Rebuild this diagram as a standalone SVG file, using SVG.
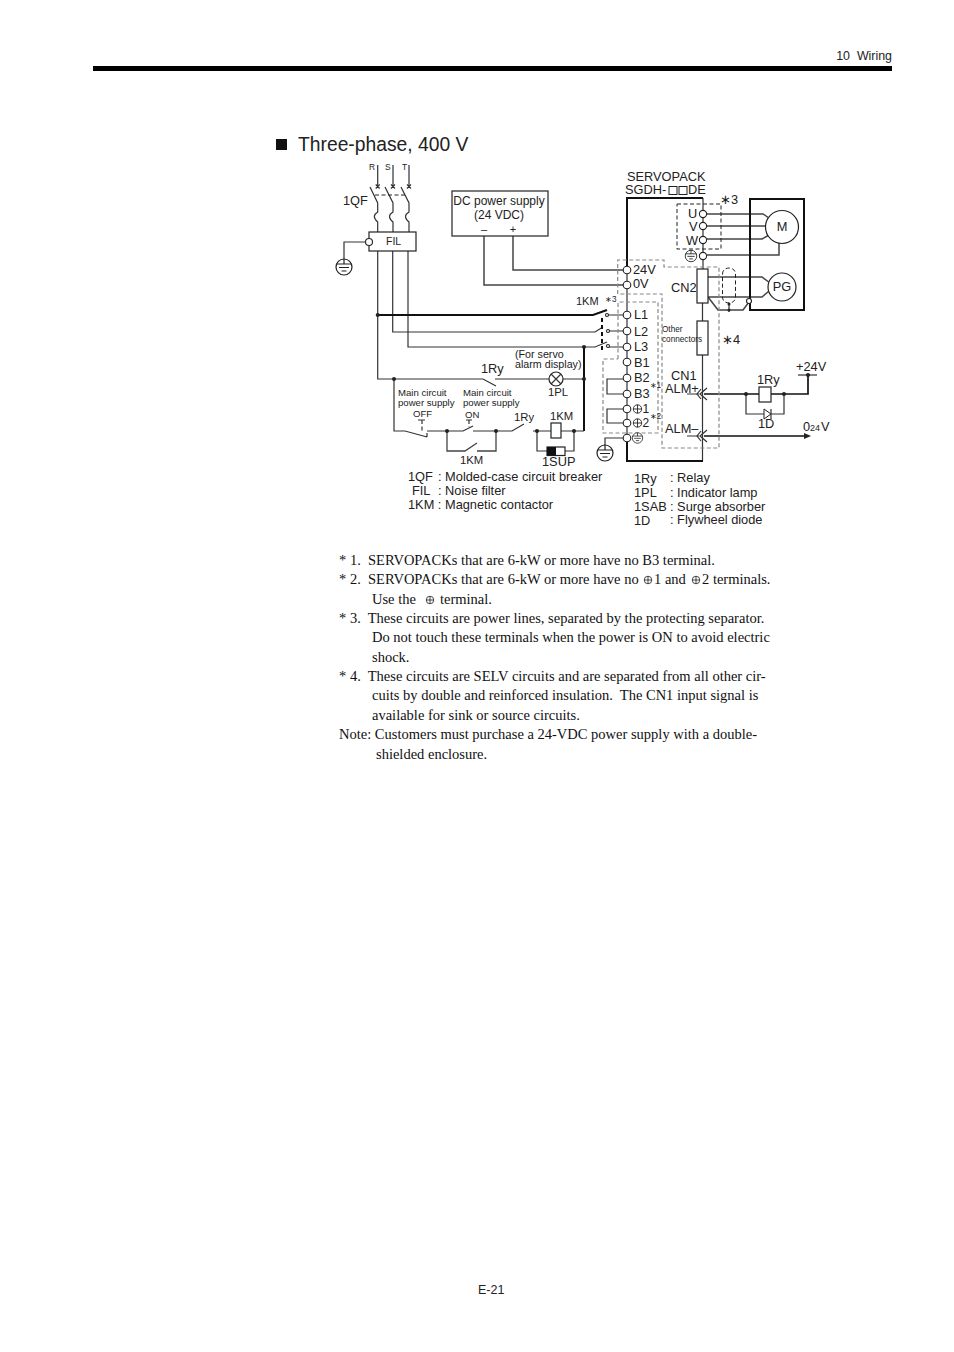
<svg xmlns="http://www.w3.org/2000/svg" width="954" height="1352" viewBox="0 0 954 1352">
<style>
text{font-family:"Liberation Sans",Arial,sans-serif;fill:#222;white-space:pre}
.s{font-size:12.8px}.xs{font-size:10.7px}.t{font-size:9.6px}.c{font-size:11.3px}.o{font-size:8.2px}.r{font-size:8.4px}
.b{font-family:"Liberation Serif","Times New Roman",serif;font-size:14.5px;fill:#111}
.w{fill:none;stroke:#333;stroke-width:1.2}
.h{fill:none;stroke:#444;stroke-width:1.5}
.k{fill:none;stroke:#111;stroke-width:2}
.tc{fill:#fff;stroke:#222;stroke-width:1.1}
.g{fill:none;stroke:#888;stroke-width:1.2;stroke-dasharray:4 2.5}
.d{fill:none;stroke:#222;stroke-width:1;stroke-dasharray:4 2.5}
.bx{fill:#fff;stroke:#222;stroke-width:1.2}
.dot{fill:#222}
</style>
<defs>
<g id="earth"><circle r="8" fill="#fff" stroke="#222" stroke-width="1.2"/><path d="M0-8V-3M-7.5-3H7.5M-5 0.5H5M-2.5 4H2.5" fill="none" stroke="#222" stroke-width="1.2"/></g>
<g id="plus"><circle r="4.2" fill="none" stroke="#222" stroke-width="0.9"/><path d="M-4.2 0H4.2M0-4.2V4.2" stroke="#222" stroke-width="0.9"/></g>
</defs>
<g id="page-header">
<rect x="93" y="66" width="799" height="5" fill="#000"/>
<text x="892" y="60" text-anchor="end" style="font-size:12.4px">10  Wiring</text>
<rect x="276" y="139" width="11" height="11" fill="#111"/>
<text x="298" y="151" style="font-size:19.3px">Three-phase, 400 V</text>
</g>
<g id="connectors">
<path class="w" d="M377.700 165V187M393 165V187M409 165V187"/>
<path class="w" d="M375.700 184.500L379.700 188.500M379.700 184.500L375.700 188.500M391 184.500L395 188.500M395 184.500L391 188.500M407 184.500L411 188.500M411 184.500L407 188.500"/>
<path class="w" d="M370 187L377.700 203V212Q371 216 377.700 222V232M385 187L393 203V212Q386 216 393 222V232M401 187L409 203V212Q402 216 409 222V232"/>
<path class="d" d="M375 195H407"/>
<path class="w" d="M365.500 242H344V259"/>
<path class="w" d="M377.700 251V379H483L496 386M495 379H549M563 379H584M392.700 251V332H595L603 327M408 251V347H595L607 342"/>
<path class="k" d="M377.700 315H593L607 310"/>
<path class="k" d="M584 347V431"/>
<path class="h" d="M484 236V285H623.500M513 236V270H623.500"/>
<path class="w" d="M607 315H623.500M608 331H623.500M608 347H623.500"/>
<path class="k" d="M602 318V350" stroke-dasharray="4 3"/>
<path class="k" d="M627 267V198H703"/>
<path class="w" d="M627 270V438"/>
<path class="w" d="M703 198V269M702.500 303V321M702.500 355V461"/>
<path class="h" d="M707 214H763L769 218M707 226H766M707 239H762L769 235M707 255H779V243"/>
<path class="h" d="M708 277H762L770 283M708 297H762L769 291M708 297L718 310H743L749 302"/>
<path class="d" d="M722.500 274C722.500 266 735.500 266 735.500 274V297C735.500 305 722.500 305 722.500 297Z"/>
<path class="w" d="M729 304V312"/>
<path class="k" d="M627 442V461H703"/>
<path class="w" d="M623.500 379H607V394H623.500M623.500 409H607V423H623.500M623.500 438H605V445"/>
<path class="w" d="M687 394H699M687 436H699"/>
<path class="k" d="M704 394H759M771 394H808V375M704 436H806" style="stroke-width:1.7"/>
<path class="w" d="M701 389L697 394L701 399M707 388L700 394L707 400M701 431L697 436L701 441M707 430L700 436L707 442"/>
<path d="M811 436L804 433V439Z" fill="#222"/>
<path class="w" d="M798 375H817"/>
<path class="w" d="M746 394V414H764M771 414H784V394"/>
<path class="w" d="M394 379V431H405L427 437M427 433V437M427 431H452L463 431L473 426M473 431H512L524 424M533 431H551M561 431H584"/>
<path class="h" d="M447 431V451H465L477 443M477 451H496V431" style="stroke-width:1.3"/>
<path class="w" d="M537 431V451H547M565 451H574V431"/>
<path class="d" d="M422 420V433M469 420V427" style="stroke-width:1.1"/>
<path class="w" d="M418 420H425M466 420H472"/>
</g>
<g id="dash-boxes">
<path class="d" d="M677 204H721V249H677Z"/>
<path class="g" d="M617.700 294V260H664V267H719V448H662V294H617.700"/>
<path class="g" d="M618 359V302H658V433H603V359H618"/>
</g>
<g id="src-labels"><text class="r" x="369" y="170">R</text><text class="r" x="385" y="170">S</text><text class="r" x="402" y="170">T</text><text class="s" x="343" y="205">1QF</text></g>
<g id="fil"><rect class="bx" x="369" y="232" width="47" height="19"/><circle class="tc" cx="369" cy="242" r="3.500"/><text style="font-size:10.5px" x="386" y="245">FIL</text></g>
<g id="earth-1"><use href="#earth" x="344" y="267"/></g>
<g id="dc-supply"><rect class="bx" x="452" y="191" width="96" height="45"/><text x="499" y="205" text-anchor="middle" style="font-size:12px">DC power supply</text><text x="499" y="219" text-anchor="middle" style="font-size:12px">(24 VDC)</text><text x="484" y="233" text-anchor="middle" style="font-size:11px">–</text><text x="513" y="233" text-anchor="middle" style="font-size:11px">+</text></g>
<g id="servopack-label"><text x="627" y="181" class="s">SERVOPACK</text><text x="625" y="194" class="s">SGDH-</text><rect x="669" y="186.500" width="8" height="8" fill="none" stroke="#222"/><rect x="679" y="186.500" width="8" height="8" fill="none" stroke="#222"/><text x="688" y="194" class="s">DE</text><text x="720" y="204" class="s">∗3</text></g>
<g id="motor"><path class="k" d="M750 310V199H804V310Z"/><circle class="bx" cx="782" cy="227" r="16.500"/><text x="782" y="231" text-anchor="middle" class="s">M</text><circle class="bx" cx="782" cy="287" r="14"/><text x="782" y="291" text-anchor="middle" class="s">PG</text></g>
<g id="cn2"><rect class="bx" x="697" y="269" width="11" height="34"/><text class="s" x="671" y="292">CN2</text><rect class="bx" x="697" y="321" width="11" height="34"/></g>
<g id="other"><text class="o" x="662" y="332">Other</text><text class="o" x="662" y="342">connectors</text><text x="722" y="344" class="s">∗4</text></g>
<g id="terminals-top">
<circle class="tc" cx="703" cy="214" r="3.600"/><circle class="tc" cx="703" cy="226" r="3.600"/><circle class="tc" cx="703" cy="240" r="3.600"/><circle class="tc" cx="703" cy="256" r="3.600"/>
<text class="s" x="688" y="218">U</text><text class="s" x="689" y="231">V</text><text class="s" x="686" y="245">W</text>
<use href="#earth" transform="translate(691 256) scale(.72)"/>
<circle class="tc" cx="749" cy="301" r="2.500"/><circle class="dot" cx="729" cy="304" r="1.500"/><circle class="dot" cx="729" cy="310" r="1.500"/>
</g>
<g id="terminals-main">
<circle class="tc" cx="627" cy="270" r="3.800"/><circle class="tc" cx="627" cy="285" r="3.800"/><circle class="tc" cx="627" cy="315" r="3.800"/><circle class="tc" cx="627" cy="331" r="3.800"/><circle class="tc" cx="627" cy="347" r="3.800"/><circle class="tc" cx="627" cy="362" r="3.800"/><circle class="tc" cx="627" cy="378" r="3.800"/><circle class="tc" cx="627" cy="394" r="3.800"/><circle class="tc" cx="627" cy="409" r="3.800"/><circle class="tc" cx="627" cy="423" r="3.800"/><circle class="tc" cx="627" cy="438" r="3.800"/>
<text class="s" x="633" y="274">24V</text><text class="s" x="633" y="288">0V</text><text class="s" x="634" y="319">L1</text><text class="s" x="634" y="336">L2</text><text class="s" x="634" y="351">L3</text><text class="s" x="634" y="367">B1</text><text class="s" x="634" y="382">B2</text><text class="s" x="634" y="398">B3</text>
<use href="#plus" x="637.500" y="409"/><text style="font-size:12px" x="642.500" y="413">1</text><use href="#plus" x="637.500" y="423"/><text style="font-size:12px" x="642.500" y="427">2</text><use href="#earth" transform="translate(637.500 438) scale(.65)"/>
<text class="o" x="649.500" y="388">∗1</text><text class="o" x="649.500" y="419">∗2</text>
</g>
<g id="earth-2"><use href="#earth" x="605" y="453"/></g>
<g id="km-label"><text style="font-size:11px" x="576" y="305">1KM</text><text class="o" x="605" y="302">∗3</text>
<circle class="dot" cx="377.700" cy="315" r="2"/><circle class="dot" cx="584" cy="347" r="2"/><circle class="dot" cx="584" cy="379" r="2"/><circle class="dot" cx="394" cy="379" r="2"/><circle class="dot" cx="447" cy="431" r="2"/><circle class="dot" cx="496" cy="431" r="2"/><circle class="dot" cx="537" cy="431" r="2"/><circle class="dot" cx="574" cy="431" r="2"/><circle class="dot" cx="746" cy="394" r="2"/><circle class="dot" cx="784" cy="394" r="2"/><circle class="dot" cx="808" cy="375" r="2"/>
<circle class="tc" cx="607" cy="315" r="1.500"/><circle class="tc" cx="608" cy="331" r="1.500"/><circle class="tc" cx="608" cy="346" r="1.500"/></g>
<g id="lamp"><circle class="bx" cx="556" cy="379" r="7"/><path class="w" d="M551 374L561 384M561 374L551 384"/><text class="c" x="548" y="396">1PL</text><text class="xs" x="515" y="358">(For servo</text><text class="xs" x="515" y="368">alarm display)</text><text class="s" x="481" y="373">1Ry</text></g>
<g id="switch-labels"><text class="t" x="398" y="396">Main circuit</text><text class="t" x="398" y="406">power supply</text><text class="t" x="413" y="417">OFF</text><text class="t" x="463" y="396">Main circuit</text><text class="t" x="463" y="406">power supply</text><text class="t" x="465" y="418">ON</text><text class="c" x="514" y="421">1Ry</text><text class="c" x="460" y="464">1KM</text></g>
<g id="coil-1km"><rect class="bx" x="551" y="423" width="10" height="15"/><text class="c" x="550" y="420">1KM</text></g>
<g id="sup"><rect class="bx" x="547" y="447" width="18" height="8.500"/><rect x="547" y="447" width="9" height="8.500" fill="#111"/><text class="s" x="542" y="466">1SUP</text></g>
<g id="cn1"><text class="s" x="671" y="380">CN1</text><text class="s" x="665" y="393">ALM+</text><text class="s" x="665" y="433">ALM–</text></g>
<g id="relay"><rect class="bx" x="759" y="387" width="12" height="15"/><text class="s" x="757" y="384">1Ry</text><path d="M764 409V419L771 414Z" fill="#fff" stroke="#222"/><path class="w" d="M771 409V419"/><text class="s" x="758" y="428">1D</text><text class="s" x="796" y="371">+24V</text><text class="s" x="803" y="431">0</text><text x="810" y="431" style="font-size:9px">24</text><text class="s" x="821" y="431">V</text></g>
<g id="legend">
<text class="s" x="408" y="481">1QF</text><text class="s" x="438" y="481">: Molded-case circuit breaker</text>
<text class="s" x="412" y="495">FIL</text><text class="s" x="438" y="495">: Noise filter</text>
<text class="s" x="408" y="509">1KM : Magnetic contactor</text>
<text class="s" x="634" y="483">1Ry</text><text class="s" x="670" y="482">: Relay</text>
<text class="s" x="634" y="497">1PL</text><text class="s" x="670" y="497">: Indicator lamp</text>
<text class="s" x="634" y="511">1SAB</text><text class="s" x="670" y="511">: Surge absorber</text>
<text class="s" x="634" y="525">1D</text><text class="s" x="670" y="524">: Flywheel diode</text>
</g>
<g id="notes">
<text class="b" x="339" y="565">* 1.  SERVOPACKs that are 6-kW or more have no B3 terminal.</text>
<text class="b" x="339" y="584">* 2.  SERVOPACKs that are 6-kW or more have no</text><use href="#plus" transform="translate(648 580) scale(.9)"/><text class="b" x="654" y="584">1 and</text><use href="#plus" transform="translate(696 580) scale(.9)"/><text class="b" x="702" y="584">2 terminals.</text>
<text class="b" x="372" y="604">Use the</text><use href="#plus" transform="translate(430 600) scale(.9)"/><text class="b" x="440" y="604">terminal.</text>
<text class="b" x="339" y="623">* 3.  These circuits are power lines, separated by the protecting separator.</text>
<text class="b" x="372" y="642">Do not touch these terminals when the power is ON to avoid electric</text>
<text class="b" x="372" y="662">shock.</text>
<text class="b" x="339" y="681">* 4.  These circuits are SELV circuits and are separated from all other cir-</text>
<text class="b" x="372" y="700">cuits by double and reinforced insulation.  The CN1 input signal is</text>
<text class="b" x="372" y="720">available for sink or source circuits.</text>
<text class="b" x="339" y="739">Note: Customers must purchase a 24-VDC power supply with a double-</text>
<text class="b" x="376" y="759">shielded enclosure.</text>
</g>
<text x="478" y="1294" style="font-size:12.5px">E-21</text>
</svg>
